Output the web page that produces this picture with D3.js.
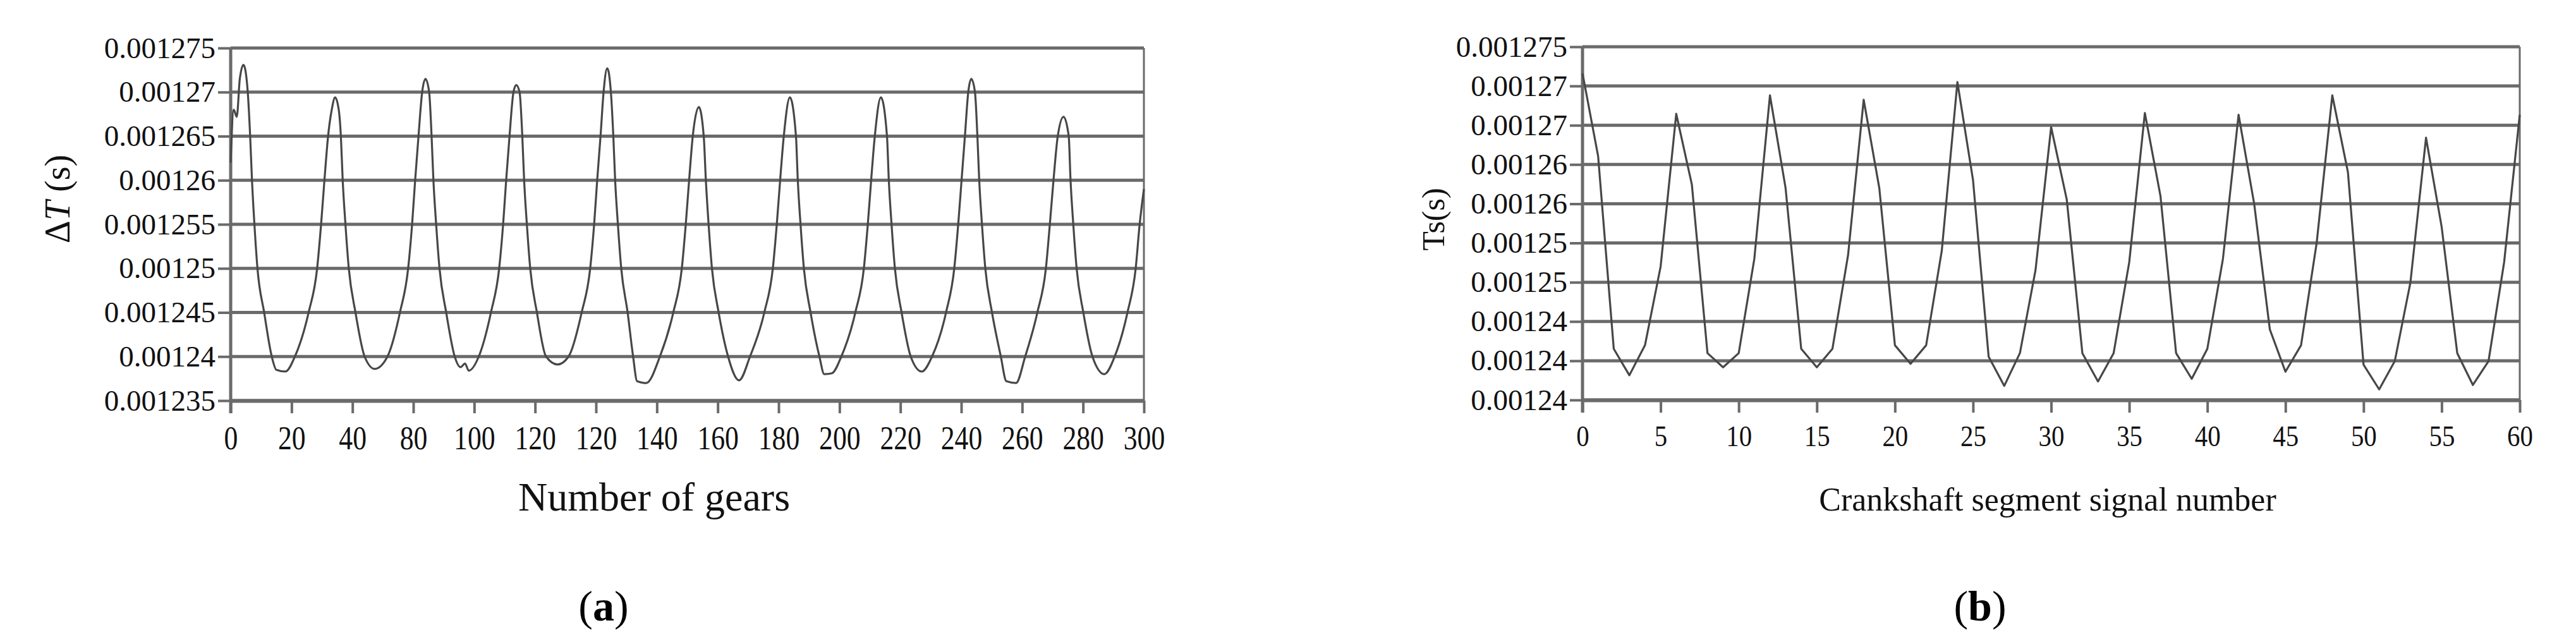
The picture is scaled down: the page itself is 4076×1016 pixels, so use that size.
<!DOCTYPE html>
<html><head><meta charset="utf-8">
<script src="https://cdn.jsdelivr.net/npm/d3@7"></script>
<style>
html,body{margin:0;padding:0;background:#fff;}
svg{display:block;font-family:"Liberation Serif","Times New Roman",serif;}
</style>
</head><body>
<svg id="c" width="4076" height="1016"></svg>
<script>
// ---------- Panel (a): ΔT vs number of gears ----------
const gearsX = [0,1,2,3,4.2,5.5,6.4,7.0,7.8,8.8,11,13.5,15,18,
 21.1,25.6,28.4,29.7,30.8,32.0,33.2,34.3,
 35.5,36.2,36.8,37.7,38.8,41.0,44.0,47.3,
 51.5,55.6,58.3,59.6,60.6,61.7,62.9,64.0,
 65.2,66.0,66.6,67.5,68.6,70.8,73.6,75.5,77.0,78.2,
 81.5,85.5,88.2,89.5,90.5,91.6,92.9,93.8,
 94.9,95.8,96.4,97.3,98.4,100.6,103.6,107.4,
 111,115.3,118.1,119.4,120.4,121.5,122.5,123.7,
 124.9,125.7,126.3,127.2,128.3,130.4,132.2,133.5,136.5,
 141,145.4,148.2,149.5,150.6,151.8,153.8,
 155.4,156.1,157,158.1,160.3,163.4,167,
 170.6,175.3,178.1,179.4,180.5,181.7,183.7,
 185.7,186.3,187.2,188.3,190.5,193.4,195,197.5,
 200.6,205.2,208,209.3,210.4,211.6,213.6,
 215.6,216.2,217.1,218.2,220.4,223.4,227,
 230.4,235,237.7,239,240.1,241.2,242.3,243.3,
 244.5,245.3,245.9,246.8,247.9,250.1,253,254.8,258,
 261,265,267.8,269.1,270.3,271.7,273.6,
 275.3,275.9,276.8,277.9,280.1,283.1,287,
 290.4,294.6,297.3,298.6,300];
const gearsDT = [0.001262,0.001268,0.0012672,0.0012715,0.0012731,0.0012705,0.001265,0.00126,0.001255,0.00125,0.001245,0.00124,0.0012385,0.0012383,
 0.00124,0.001245,0.00125,0.001255,0.00126,0.001265,0.001268,0.0012694,
 0.001268,0.001265,0.00126,0.001255,0.00125,0.001245,0.00124,0.0012386,
 0.00124,0.001245,0.00125,0.001255,0.00126,0.001265,0.00127,0.0012715,
 0.00127,0.001265,0.00126,0.001255,0.00125,0.001245,0.00124,0.0012388,0.0012392,0.0012384,
 0.00124,0.001245,0.00125,0.001255,0.00126,0.001265,0.00127,0.0012708,
 0.00127,0.001265,0.00126,0.001255,0.00125,0.001245,0.00124,0.0012391,
 0.00124,0.001245,0.00125,0.001255,0.00126,0.001265,0.00127,0.0012727,
 0.00127,0.001265,0.00126,0.001255,0.00125,0.001245,0.00124,0.0012372,0.001237,
 0.00124,0.001245,0.00125,0.001255,0.00126,0.001265,0.0012683,
 0.001265,0.00126,0.001255,0.00125,0.001245,0.00124,0.0012373,
 0.00124,0.001245,0.00125,0.001255,0.00126,0.001265,0.0012694,
 0.001265,0.00126,0.001255,0.00125,0.001245,0.00124,0.001238,0.0012381,
 0.00124,0.001245,0.00125,0.001255,0.00126,0.001265,0.0012694,
 0.001265,0.00126,0.001255,0.00125,0.001245,0.00124,0.0012383,
 0.00124,0.001245,0.00125,0.001255,0.00126,0.001265,0.00127,0.0012715,
 0.00127,0.001265,0.00126,0.001255,0.00125,0.001245,0.00124,0.0012372,0.001237,
 0.00124,0.001245,0.00125,0.001255,0.00126,0.001265,0.0012672,
 0.001265,0.00126,0.001255,0.00125,0.001245,0.00124,0.001238,
 0.00124,0.001245,0.00125,0.001255,0.001259];
const aYTicks = [0.001235,0.00124,0.001245,0.00125,0.001255,0.00126,0.001265,0.00127,0.001275];
const aYLabels = ["0.001235","0.00124","0.001245","0.00125","0.001255","0.00126","0.001265","0.00127","0.001275"];
const aXTicks = [0,20,40,60,80,100,120,140,160,180,200,220,240,260,280,300];
const aXLabels = ["0","20","40","80","100","120","120","140","160","180","200","220","240","260","280","300"];

// ---------- Panel (b): Ts vs crankshaft segment signal number ----------
const segX = [0,1,2,3,4,5,6,7,8,9,10,11,12,13,14,15,16,17,18,19,20,21,22,23,24,25,26,27,28,29,30,
 31,32,33,34,35,36,37,38,39,40,41,42,43,44,45,46,47,48,49,50,51,52,53,54,55,56,57,58,59,60];
const segTs = [0.0012720,0.0012626,0.0012408,0.0012378,0.0012412,0.0012501,
 0.0012674,0.0012594,0.0012403,0.0012387,0.0012403,0.0012510,
 0.0012695,0.0012590,0.0012408,0.0012387,0.0012408,0.0012514,
 0.0012690,0.0012590,0.0012412,0.0012391,0.0012412,0.0012519,
 0.0012710,0.0012599,0.0012399,0.0012366,0.0012403,0.0012497,
 0.0012659,0.0012577,0.0012403,0.0012371,0.0012403,0.0012506,
 0.0012675,0.0012581,0.0012403,0.0012374,0.0012408,0.0012510,
 0.0012673,0.0012572,0.0012430,0.0012382,0.0012412,0.0012528,
 0.0012695,0.0012608,0.0012390,0.0012362,0.0012394,0.0012483,
 0.0012647,0.0012546,0.0012403,0.0012367,0.0012394,0.0012506,
 0.0012673];
const bYTicks = [0.001235,0.00123944,0.00124389,0.00124833,0.00125278,0.00125722,0.00126167,0.00126611,0.00127056,0.001275];
const bYLabels = ["0.00124","0.00124","0.00124","0.00125","0.00125","0.00126","0.00126","0.00127","0.00127","0.001275"];
const bXTicks = [0,5,10,15,20,25,30,35,40,45,50,55,60];
const bXLabels = ["0","5","10","15","20","25","30","35","40","45","50","55","60"];

const svg = d3.select("#c");
const GRID = "#6a6a6a", LINE = "#474747", TXT = "#111";

function panel(o) {
  const x = d3.scaleLinear().domain(o.xDomain).range([o.left, o.right]);
  const y = d3.scaleLinear().domain(o.yDomain).range([o.bottom, o.top]);
  const g = svg.append("g");

  // horizontal gridlines
  g.append("g").selectAll("line").data(o.yTicks).join("line")
    .attr("x1", o.left).attr("x2", o.right)
    .attr("y1", d => y(d)).attr("y2", d => y(d))
    .attr("stroke", GRID).attr("stroke-width", 5);

  // right border
  g.append("line").attr("x1", o.right).attr("x2", o.right)
    .attr("y1", o.top).attr("y2", o.bottom)
    .attr("stroke", GRID).attr("stroke-width", 3);

  // y axis
  const ya = g.append("g").attr("transform", `translate(${o.left},0)`)
    .call(d3.axisLeft(y).tickValues(o.yTicks).tickFormat((d, i) => o.yLabels[i])
      .tickSize(20).tickSizeOuter(0).tickPadding(4));
  ya.select(".domain").attr("stroke", GRID).attr("stroke-width", 5)
    .attr("d", `M0,${o.top}V${o.bottom + 20}`);
  ya.selectAll(".tick line").attr("stroke", GRID).attr("stroke-width", 4);
  ya.selectAll(".tick text").attr("font-size", o.yFont).attr("fill", TXT)
    .attr("font-family", "Liberation Serif");

  // x axis
  const xa = g.append("g").attr("transform", `translate(0,${o.bottom})`)
    .call(d3.axisBottom(x).tickValues(o.xTicks).tickFormat((d, i) => o.xLabels[i])
      .tickSize(20).tickSizeOuter(0).tickPadding(20));
  xa.select(".domain").attr("stroke", GRID).attr("stroke-width", 6);
  xa.selectAll(".tick line").attr("stroke", GRID).attr("stroke-width", 4);
  xa.selectAll(".tick text").attr("font-size", o.xFont).attr("fill", TXT)
    .attr("font-family", "Liberation Serif")
    .attr("transform", `scale(${o.xSquash},1)`);

  // data line
  const pts = o.xs.map((v, i) => [v, o.ys[i]]);
  g.append("path").datum(pts)
    .attr("fill", "none").attr("stroke", LINE).attr("stroke-width", 3.2)
    .attr("stroke-linejoin", "round")
    .attr("d", d3.line().x(d => x(d[0])).y(d => y(d[1])).curve(o.curve));

  // y title
  const yt = g.append("text")
    .attr("transform", `translate(${o.yTitleX},${o.yTitleY}) rotate(-90)`)
    .attr("text-anchor", "middle").attr("font-size", o.yTitleFont).attr("fill", TXT);
  o.yTitle.forEach(p => yt.append("tspan").text(p.t).attr("font-style", p.i ? "italic" : "normal"));

  // x title
  g.append("text").attr("x", o.xTitleX).attr("y", o.xTitleY)
    .attr("text-anchor", "middle").attr("font-size", o.xTitleFont).attr("fill", TXT)
    .text(o.xTitle);

  // caption
  const cap = g.append("text").attr("x", o.capX).attr("y", o.capY)
    .attr("text-anchor", "middle").attr("font-size", 68).attr("fill", "#000")
    .attr("font-family", "Liberation Serif");
  cap.append("tspan").text("(");
  cap.append("tspan").text(o.cap).attr("font-weight", "bold");
  cap.append("tspan").text(")");
}

panel({
  xs: gearsX, ys: gearsDT, xDomain: [0, 300], yDomain: [0.001235, 0.001275],
  left: 365, right: 1810, top: 76, bottom: 634,
  yTicks: aYTicks, yLabels: aYLabels, xTicks: aXTicks, xLabels: aXLabels,
  yFont: 47, xFont: 52, xSquash: 0.84, curve: d3.curveMonotoneX,
  yTitle: [{t: "Δ"}, {t: "T", i: true}, {t: " (s)"}], yTitleX: 110, yTitleY: 315, yTitleFont: 56,
  xTitle: "Number of gears", xTitleX: 1035, xTitleY: 808, xTitleFont: 64,
  cap: "a", capX: 955, capY: 982
});

panel({
  xs: segX, ys: segTs, xDomain: [0, 60], yDomain: [0.001235, 0.001275],
  left: 2504, right: 3987, top: 74, bottom: 633,
  yTicks: bYTicks, yLabels: bYLabels, xTicks: bXTicks, xLabels: bXLabels,
  yFont: 47, xFont: 47, xSquash: 0.87, curve: d3.curveLinear,
  yTitle: [{t: "Ts(s)"}], yTitleX: 2285, yTitleY: 347, yTitleFont: 50,
  xTitle: "Crankshaft segment signal number", xTitleX: 3240, xTitleY: 808, xTitleFont: 52,
  cap: "b", capX: 3133, capY: 982
});
</script>
</body></html>
